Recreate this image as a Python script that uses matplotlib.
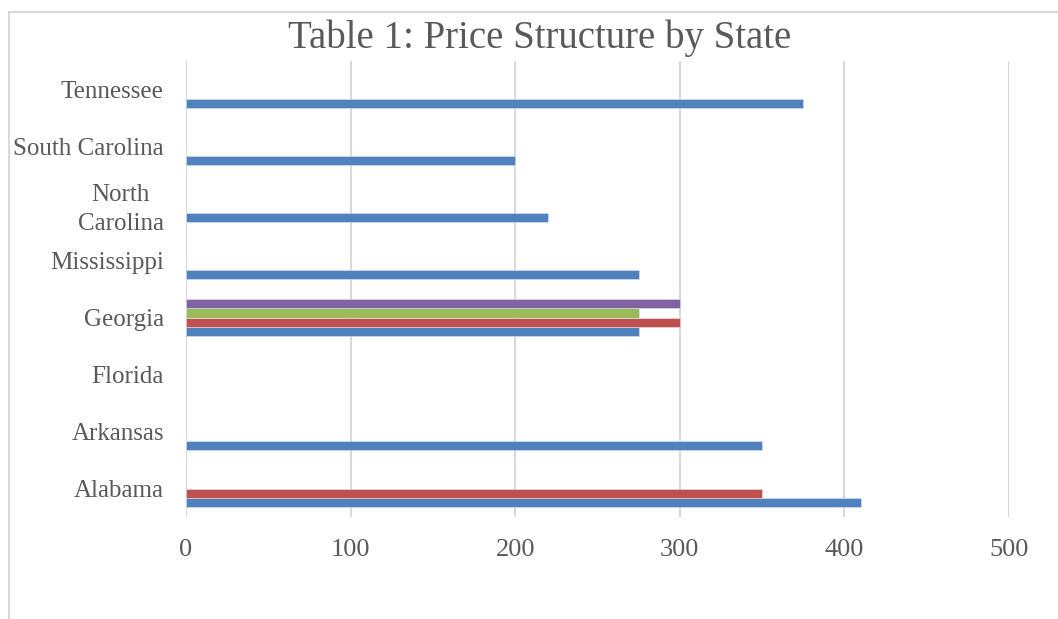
import numpy as np
import matplotlib.pyplot as plt
from matplotlib.patches import Rectangle

# categories, bottom to top as drawn
states = ["Alabama", "Arkansas", "Florida", "Georgia", "Mississippi",
          "North\nCarolina", "South Carolina", "Tennessee"]

# series values (nan = no bar)
s1 = [410, 350, np.nan, 275, 275, 220, 200, 375]
s2 = [350, np.nan, np.nan, 300, np.nan, np.nan, np.nan, np.nan]
s3 = [np.nan, np.nan, np.nan, 275, np.nan, np.nan, np.nan, np.nan]
s4 = [np.nan, np.nan, np.nan, 300, np.nan, np.nan, np.nan, np.nan]

series = [s1, s2, s3, s4]
colors = ["#4f81bd", "#c0504d", "#9bbb59", "#8064a2"]

txt = "#595959"
font = "Liberation Serif"

fig = plt.figure(figsize=(10.58, 6.19), dpi=100)
W, H = 1058, 619
ax = fig.add_axes([186/W, 1-517/H, (1009-186)/W, (517-61)/H])

# outer chart border
fig.patches.append(Rectangle((9/W, -0.05), 1.2, 1-12/H+0.05, transform=fig.transFigure,
                             fill=False, edgecolor="#d9d9d9", linewidth=1.5))

y = np.arange(len(states))
h = 0.162
for i, (vals, c) in enumerate(zip(series, colors)):
    ax.barh(y + (i - 1.5) * h, vals, height=h, color=c,
            edgecolor="#dce6f2", linewidth=0.4)

ax.set_xlim(0, 500)
ax.set_ylim(-0.5, len(states) - 0.5)
ax.set_xticks(range(0, 501, 100))
ax.set_yticks(y)
ax.set_yticklabels(states, multialignment="center", linespacing=1.4)
ax.grid(axis="x", color="#d9d9d9", linewidth=1.5)
ax.set_axisbelow(True)
for s in ax.spines.values():
    s.set_visible(False)
ax.tick_params(axis="both", length=0, colors=txt)
ax.tick_params(axis="y", pad=16, labelsize=18)
ax.tick_params(axis="x", pad=16, labelsize=19)
for lab in ax.get_xticklabels() + ax.get_yticklabels():
    lab.set_fontfamily(font)

fig.text(540/W, 1-38/H, "Table 1: Price Structure by State", ha="center", va="center",
         fontsize=28, color=txt, family=font)

fig.savefig("out.png", dpi=100)
